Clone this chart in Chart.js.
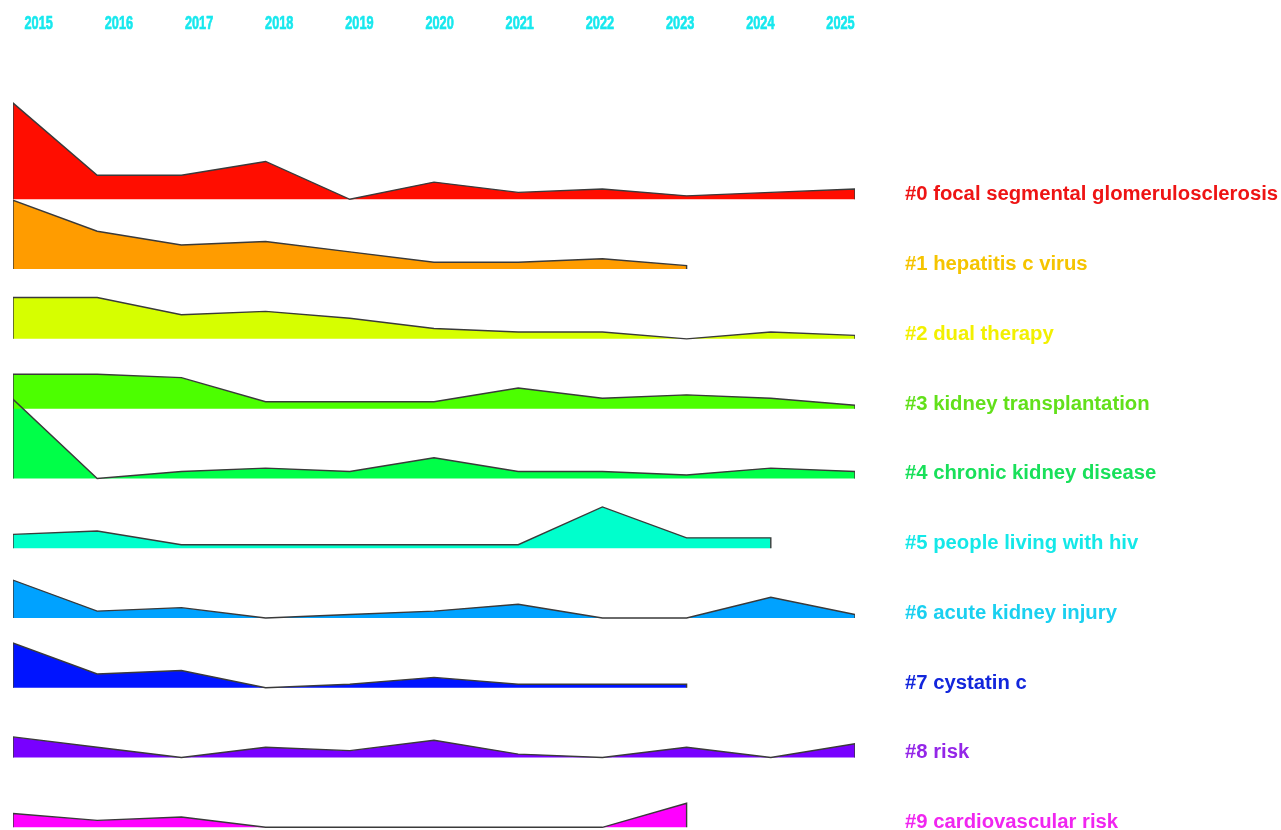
<!DOCTYPE html>
<html>
<head>
<meta charset="utf-8">
<title>Cluster timeline landscape</title>
<script src="https://cdn.jsdelivr.net/npm/chart.js@4.4.1/dist/chart.umd.min.js"></script>
<style>
  html, body { margin: 0; padding: 0; background: #ffffff; }
  #wrap { width: 1281px; height: 830px; position: relative; }
</style>
</head>
<body>
<div id="wrap"><canvas id="landscape"></canvas></div>
<script>
// Publication years and their tick labels
const years = [2015, 2016, 2017, 2018, 2019, 2020, 2021, 2022, 2023, 2024, 2025];
const yearLabels = ['2015', '2016', '2017', '2018', '2019', '2020', '2021', '2022', '2023', '2024', '2025'];

// Cluster names, top to bottom
const clusterLabels = [
  '#0 focal segmental glomerulosclerosis',
  '#1 hepatitis c virus',
  '#2 dual therapy',
  '#3 kidney transplantation',
  '#4 chronic kidney disease',
  '#5 people living with hiv',
  '#6 acute kidney injury',
  '#7 cystatin c',
  '#8 risk',
  '#9 cardiovascular risk'
];

// Yearly activity per cluster (series stop where the cluster ends)
const focalSegmental   = [28, 7, 7, 11, 0, 5, 2, 3, 1, 2, 3];
const hepatitisC       = [20, 11, 7, 8, 5, 2, 2, 3, 1];
const dualTherapy      = [12, 12, 7, 8, 6, 3, 2, 2, 0, 2, 1];
const kidneyTransplant = [10, 10, 9, 2, 2, 2, 6, 3, 4, 3, 1];
const chronicKidney    = [23, 0, 2, 3, 2, 6, 2, 2, 1, 3, 2];
const livingWithHiv    = [4, 5, 1, 1, 1, 1, 1, 12, 3, 3];
const acuteKidney      = [11, 2, 3, 0, 1, 2, 4, 0, 0, 6, 1];
const cystatinC        = [13, 4, 5, 0, 1, 3, 1, 1, 1];
const risk             = [6, 3, 0, 3, 2, 5, 1, 0, 3, 0, 4];
const cardiovascular   = [4, 2, 3, 0, 0, 0, 0, 0, 7];

const clusterSeries = [focalSegmental, hepatitisC, dualTherapy, kidneyTransplant, chronicKidney,
                       livingWithHiv, acuteKidney, cystatinC, risk, cardiovascular];

// Styling
const fillColors  = ['#ff0d00', '#ff9c00', '#d6ff00', '#4cff00', '#00ff48',
                     '#00ffcc', '#00a2ff', '#0014ff', '#7800ff', '#ff00ff'];
const labelColors = ['#ee1414', '#f5c400', '#f2f000', '#62e01a', '#18e05a',
                     '#14e8e8', '#1ad0f0', '#1226dc', '#9426e8', '#f026f0'];
const outlineColor = '#3a3a3a';
const yearColor = '#18e8ee';

// Layout: each cluster sits on its own baseline, stacked downwards
const ROW_GAP = 20.285;      // value units between neighbouring baselines
const LABEL_LIFT = 1.35;     // cluster name sits slightly above its baseline
const Y_MAX = 43.98;
const Y_MIN = -183.35;

const datasets = clusterSeries.map((vals, i) => {
  const base = -i * ROW_GAP;
  const pts = vals.map((v, k) => ({ x: years[k], y: base + v }));
  // close the outline down to the baseline at both ends
  const data = [{ x: years[0], y: base }, ...pts, { x: years[vals.length - 1], y: base }];
  return {
    label: clusterLabels[i],
    data,
    fill: { value: base },
    backgroundColor: fillColors[i],
    borderColor: outlineColor,
    borderWidth: 1.4,
    pointRadius: 0,
    pointHoverRadius: 0,
    tension: 0,
    xAxisID: 'x',
    yAxisID: 'y'
  };
});

// Year captions along the top band, set in a condensed bold face
const yearCaptions = {
  id: 'yearCaptions',
  afterDraw(chart) {
    const scale = chart.scales.years;
    const ctx = chart.ctx;
    ctx.save();
    ctx.fillStyle = yearColor;
    ctx.strokeStyle = yearColor;
    ctx.lineWidth = 0.7;
    ctx.lineJoin = 'round';
    ctx.font = "bold 19px 'Liberation Sans', Arial, sans-serif";
    ctx.textAlign = 'center';
    ctx.textBaseline = 'middle';
    years.forEach((yr, k) => {
      const x = scale.getPixelForValue(yr);
      ctx.save();
      ctx.translate(x, 24);
      ctx.scale(0.67, 1);
      ctx.fillText(yearLabels[k], 0, 0);
      ctx.strokeText(yearLabels[k], 0, 0);
      ctx.restore();
    });
    ctx.restore();
  }
};

new Chart(document.getElementById('landscape'), {
  type: 'line',
  data: { datasets },
  plugins: [yearCaptions],
  options: {
    responsive: true,
    maintainAspectRatio: false,
    animation: false,
    events: [],
    layout: { padding: { left: 13, right: 0, top: 0, bottom: 0 } },
    plugins: {
      legend: { display: false },
      tooltip: { enabled: false },
      // paint every area first, then all outlines on top
      filler: { drawTime: 'beforeDatasetsDraw' }
    },
    scales: {
      x: {
        type: 'linear',
        min: 2015,
        max: 2025,
        display: false
      },
      years: {
        type: 'linear',
        axis: 'x',
        position: 'top',
        min: 2014.6795,
        max: 2025.181,
        grid: { display: false, drawTicks: false },
        border: { display: false },
        afterBuildTicks: (scale) => { scale.ticks = years.map(v => ({ value: v })); },
        afterFit: (scale) => { scale.height = 48; scale.paddingLeft = 0; scale.paddingRight = 0; },
        ticks: { display: false }
      },
      y: {
        type: 'linear',
        position: 'right',
        min: Y_MIN,
        max: Y_MAX,
        grid: { display: false, drawTicks: false },
        border: { display: false },
        afterBuildTicks: (scale) => {
          scale.ticks = clusterLabels.map((_, i) => ({ value: -i * ROW_GAP + LABEL_LIFT }));
        },
        afterFit: (scale) => { scale.width = 426; scale.paddingTop = 0; scale.paddingBottom = 0; },
        ticks: {
          autoSkip: false,
          padding: 50,
          color: (ctx) => labelColors[ctx.index],
          font: { family: "'Liberation Sans', Arial, sans-serif", weight: 'bold', size: 20.3 },
          callback: (v, i) => clusterLabels[i]
        }
      }
    }
  }
});
</script>
</body>
</html>
